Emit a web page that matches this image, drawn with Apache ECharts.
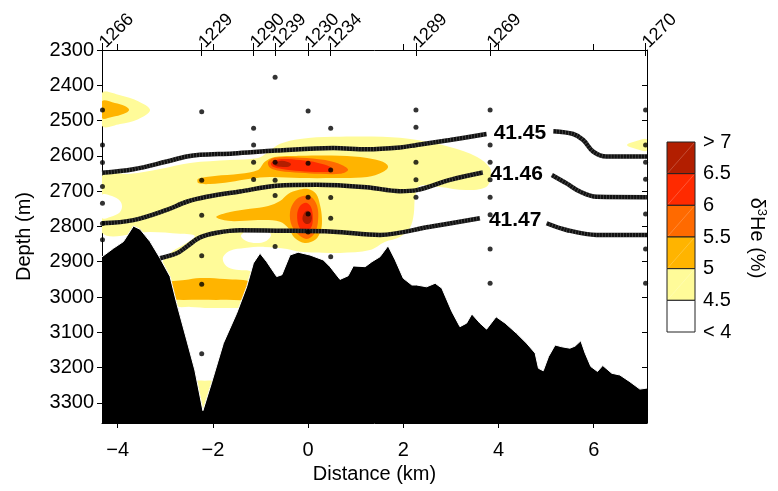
<!DOCTYPE html>
<html>
<head>
<meta charset="utf-8">
<script src="https://cdn.jsdelivr.net/npm/echarts@6/dist/echarts.min.js"></script>
<style>
  html, body { margin: 0; padding: 0; background: #fff; }
  #chart { width: 778px; height: 491px; }
</style>
</head>
<body>
<div id="chart"></div>
<script>
const FONT = '"Liberation Sans", Arial, Helvetica, sans-serif';

// ---- axes ----
const kmTicks = [-4, -2, 0, 2, 4, 6];
const depthTicks = [2300, 2400, 2500, 2600, 2700, 2800, 2900, 3000, 3100, 3200, 3300];
const kmRange = [-4.33, 7.12];
const depthRange = [2300, 3357];

// ---- stations along the section (km) ----
const stationIds = ['1266', '1229', '1290', '1239', '1230', '1234', '1289', '1269', '1270'];
const stationKm = [-4.32, -2.235, -1.145, -0.693, 0.0, 0.475, 2.266, 3.824, 7.09];

// sample depths (m) of each cast
const cast1266 = [2470, 2569, 2619, 2687, 2734, 2792, 2838];
const cast1229 = [2475, 2669, 2768, 2883, 2964, 3161];
const cast1290 = [2522, 2569, 2618, 2667];
const cast1239 = [2377, 2618, 2669, 2712, 2857];
const cast1230 = [2473, 2621, 2717, 2765, 2816];
const cast1234 = [2522, 2640, 2718, 2777, 2886];
const cast1289 = [2470, 2519, 2618, 2668, 2717];
const cast1269 = [2470, 2569, 2618, 2668, 2717, 2767, 2864, 2961];
const cast1270 = [2470, 2569, 2618, 2666, 2765, 2864, 2961, 3320];
const casts = [cast1266, cast1229, cast1290, cast1239, cast1230, cast1234, cast1289, cast1269, cast1270];

// ---- seafloor profile ----
const seafloorKm = [-4.33, -4.09, -3.88, -3.67, -3.53, -3.32, -3.11, -2.90, -2.76, -2.55, -2.38, -2.21,
  -2.03, -1.78, -1.50, -1.29, -1.15, -1.01, -0.87, -0.66, -0.55, -0.38, -0.21, 0.04, 0.32, 0.46, 0.67,
  0.84, 0.95, 1.20, 1.34, 1.51, 1.68, 1.83, 2.00, 2.18, 2.28, 2.49, 2.67, 2.81, 3.02, 3.19, 3.33, 3.44,
  3.61, 3.75, 3.95, 4.14, 4.38, 4.59, 4.77, 4.84, 4.94, 5.05, 5.19, 5.33, 5.50, 5.61, 5.73, 5.82, 5.94,
  6.08, 6.19, 6.38, 6.55, 6.76, 6.97, 7.12];
const seafloorDepth = [2886, 2862, 2843, 2799, 2808, 2843, 2890, 2942, 3018, 3122, 3207, 3322,
  3244, 3131, 3046, 2971, 2904, 2876, 2900, 2942, 2937, 2881, 2873, 2881, 2895, 2914, 2950,
  2940, 2912, 2914, 2900, 2886, 2855, 2895, 2947, 2966, 2966, 2971, 2961, 2975, 3041, 3084, 3074, 3048,
  3074, 3091, 3056, 3074, 3103, 3131, 3159, 3202, 3209, 3169, 3136, 3141, 3145, 3139, 3124, 3159, 3197,
  3211, 3194, 3216, 3221, 3240, 3261, 3258];

// ---- isopycnals (km, depth), split where the label sits ----
const iso4145West = [[-4.33, 2648], [-3.67, 2638], [-2.97, 2616], [-2.55, 2602], [-2.27, 2597], [-1.57, 2593],
  [-0.66, 2585], [0.53, 2578], [1.23, 2581], [1.93, 2576], [2.28, 2569], [2.98, 2555], [3.75, 2538]];
const iso4145East = [[5.15, 2530], [5.57, 2538], [5.78, 2555], [5.99, 2588], [6.27, 2602], [7.12, 2602]];
const iso4146West = [[-4.33, 2791], [-3.67, 2782], [-2.97, 2753], [-2.55, 2730], [-2.13, 2716], [-1.43, 2701],
  [-0.66, 2685], [0.18, 2682], [1.23, 2689], [1.93, 2700], [2.28, 2697], [2.98, 2668], [3.67, 2647]];
const iso4146East = [[5.12, 2654], [5.43, 2678], [5.71, 2701], [6.06, 2716], [7.12, 2717]];
const iso4147West = [[-3.11, 2890], [-2.76, 2876], [-2.55, 2857], [-2.27, 2831], [-1.92, 2818], [-1.43, 2811],
  [-0.66, 2812], [0.53, 2815], [1.51, 2824], [2.56, 2801], [3.61, 2777]];
const iso4147East = [[5.01, 2791], [5.43, 2810], [6.06, 2824], [7.12, 2824]];
const isoLabels = ['41.45', '41.46', '41.47'];
const isoLabelAt = [[4.45, 2537], [4.38, 2651], [4.35, 2782]];

// ---- δ3He classes ----
const levelColors = ['#FFFFFF', '#FFFB99', '#FFB400', '#FF6A00', '#FF2A00', '#B21E00'];
const levelTickText = ['> 7', '6.5', '6', '5.5', '5', '4.5', '< 4'];

// filled contour outlines (km, depth)
const he45Main = [[-4.33, 2657], [-3.74, 2651], [-3.11, 2637], [-2.48, 2620], [-1.64, 2612], [-1.05, 2606],
  [-0.84, 2589], [-0.59, 2566], [-0.17, 2552], [0.52, 2546], [1.57, 2546], [2.29, 2555], [2.98, 2575],
  [3.55, 2603], [3.82, 2634], [3.84, 2660], [3.74, 2688], [3.32, 2697], [2.77, 2688], [2.35, 2685],
  [2.25, 2714], [2.22, 2765], [2.14, 2804], [1.93, 2830], [1.61, 2844], [1.30, 2867], [0.67, 2875],
  [-0.17, 2872], [-0.44, 2864], [-0.91, 2858], [-1.33, 2861], [-1.64, 2869], [-1.79, 2889], [-1.72, 2912],
  [-1.51, 2923], [-1.22, 2926], [-1.05, 2940], [-1.22, 3008], [-1.35, 3028], [-1.64, 3031], [-2.06, 3031],
  [-2.48, 3028], [-2.78, 3025], [-2.99, 2980], [-3.07, 2906], [-2.86, 2872], [-2.59, 2850], [-2.38, 2827],
  [-2.69, 2821], [-3.32, 2816], [-4.33, 2818]];
const he45WestCap = [[-4.33, 2422], [-3.95, 2428], [-3.57, 2445], [-3.32, 2470], [-3.57, 2496], [-3.95, 2510], [-4.33, 2515]];
const he45EastCap = [[6.70, 2569], [6.91, 2557], [7.12, 2553], [7.12, 2585], [6.91, 2581]];
const he45Trough = [[-2.48, 3243], [-2.17, 3237], [-1.85, 3243], [-1.96, 3292], [-2.21, 3330], [-2.38, 3292]];
const lowWest = [[-4.33, 2711], [-4.12, 2714], [-3.95, 2728], [-3.91, 2745], [-3.97, 2762], [-4.16, 2773], [-4.33, 2776]];
const lowCentre = [[-1.41, 2827], [-1.30, 2813], [-1.09, 2807], [-0.88, 2810], [-0.78, 2824], [-0.88, 2841], [-1.09, 2847], [-1.30, 2841]];
const he5WestCap = [[-4.33, 2445], [-4.06, 2450], [-3.85, 2459], [-3.76, 2470], [-3.87, 2481], [-4.12, 2490], [-4.33, 2493]];
const he5Upper = [[-2.31, 2665], [-1.96, 2657], [-1.43, 2651], [-1.05, 2640], [-0.91, 2617], [-0.70, 2603],
  [-0.17, 2600], [0.67, 2600], [1.24, 2606], [1.57, 2617], [1.68, 2631], [1.57, 2646], [1.24, 2660],
  [0.56, 2663], [-0.17, 2663], [-0.80, 2660], [-1.22, 2665], [-1.64, 2674], [-2.06, 2680], [-2.31, 2677]];
const he55Upper = [[-0.84, 2617], [-0.70, 2605], [-0.17, 2605], [0.36, 2612], [0.71, 2626], [0.84, 2640],
  [0.67, 2651], [0.25, 2651], [-0.17, 2648], [-0.59, 2643], [-0.80, 2634]];
const he6Upper = [[-0.78, 2620], [-0.63, 2610], [-0.17, 2612], [0.21, 2620], [0.46, 2631], [0.50, 2643],
  [0.25, 2646], [-0.17, 2643], [-0.55, 2637], [-0.74, 2631]];
const he65Upper = [[-0.70, 2620], [-0.55, 2614], [-0.36, 2622], [-0.40, 2630], [-0.57, 2631], [-0.70, 2627]];
const he5Lower = [[-1.93, 2773], [-1.64, 2759], [-1.22, 2750], [-0.84, 2742], [-0.59, 2728], [-0.42, 2708],
  [-0.21, 2697], [0.00, 2694], [0.17, 2708], [0.25, 2739], [0.29, 2776], [0.27, 2810], [0.15, 2838],
  [-0.07, 2847], [-0.28, 2833], [-0.42, 2804], [-0.59, 2787], [-0.91, 2782], [-1.33, 2784], [-1.68, 2784]];
const he55Lower = [[-0.38, 2759], [-0.28, 2728], [-0.11, 2714], [0.06, 2716], [0.19, 2742], [0.21, 2782],
  [0.15, 2816], [0.00, 2835], [-0.17, 2827], [-0.34, 2799]];
const he6Lower = [[-0.23, 2767], [-0.17, 2742], [-0.04, 2733], [0.06, 2745], [0.10, 2776], [0.06, 2804], [-0.07, 2816], [-0.19, 2801]];
const he65Lower = [[-0.11, 2770], [-0.04, 2756], [0.04, 2759], [0.08, 2776], [0.04, 2790], [-0.04, 2793], [-0.11, 2784]];
const he5Trough = [[-3.01, 2963], [-2.59, 2952], [-2.27, 2946], [-1.75, 2949], [-1.18, 2960], [-1.18, 3003],
  [-1.75, 3008], [-2.27, 3008], [-2.80, 3008], [-3.01, 3005]];

// drawing order: lower classes first, each later outline painted over the earlier ones
const regions = [
  { pts: he45Main, level: 1 }, { pts: he45WestCap, level: 1 }, { pts: he45EastCap, level: 1 },
  { pts: he45Trough, level: 1 }, { pts: lowWest, level: 0 }, { pts: lowCentre, level: 0 },
  { pts: he5WestCap, level: 2 }, { pts: he5Upper, level: 2 }, { pts: he5Lower, level: 2 }, { pts: he5Trough, level: 2 },
  { pts: he55Upper, level: 3 }, { pts: he55Lower, level: 3 },
  { pts: he6Upper, level: 4 }, { pts: he6Lower, level: 4 },
  { pts: he65Upper, level: 5 }, { pts: he65Lower, level: 5 }
];

const chart = echarts.init(document.getElementById('chart'), null, { renderer: 'canvas' });

const axisLineStyle = { color: '#000', width: 1 };
const minus = v => (v < 0 ? '\u2212' + Math.abs(v) : String(v));
const plain = v => String(v);
const stationName = v => {
  let best = 0;
  stationKm.forEach((k, i) => { if (Math.abs(k - v) < Math.abs(stationKm[best] - v)) best = i; });
  return stationIds[best];
};

// isopycnals: dark stroke with a fine lighter hatch on top
const isoSegments = [iso4145West, iso4145East, iso4146West, iso4146East, iso4147West, iso4147East];
const isoSeries = [];
isoSegments.forEach(seg => {
  isoSeries.push({ type: 'line', data: seg, smooth: 0.35, symbol: 'none', silent: true, z: 5,
    lineStyle: { color: '#111', width: 4.5 } });
  isoSeries.push({ type: 'line', data: seg, smooth: 0.35, symbol: 'none', silent: true, z: 5,
    lineStyle: { color: 'rgba(255,255,255,0.28)', width: 4.5, type: [0.7, 2.3] } });
});

const dotData = [];
casts.forEach((c, i) => c.forEach(d => dotData.push([stationKm[i], d])));

// colour key
const keyX = 667, keyW = 28, keyTop = 142, keyH = 190, keyN = 6;
const cell = keyH / keyN;
const keyGraphics = [];
for (let i = 0; i < keyN; i++) {
  const y0 = keyTop + i * cell;
  keyGraphics.push({ type: 'rect', shape: { x: keyX, y: y0, width: keyW, height: cell },
    style: { fill: levelColors[keyN - 1 - i], stroke: '#222', lineWidth: 1 } });
  keyGraphics.push({ type: 'line', shape: { x1: keyX + 1, y1: y0 + cell - 1, x2: keyX + keyW - 1, y2: y0 + 1 },
    style: { stroke: 'rgba(255,255,255,0.35)', lineWidth: 0.6 } });
}
levelTickText.forEach((t, i) => {
  keyGraphics.push({ type: 'text', x: keyX + keyW + 8, y: keyTop + i * cell,
    style: { text: t, font: '20px ' + FONT, fill: '#000', align: 'left', verticalAlign: 'middle' } });
});
keyGraphics.push({ type: 'text', x: 757, y: 238, rotation: -Math.PI / 2,
  style: { text: '{a|δ}{s|3}{a|He (%)}', align: 'center', verticalAlign: 'middle',
    rich: { a: { fontSize: 20, fontFamily: FONT, fill: '#000' },
            s: { fontSize: 13, fontFamily: FONT, fill: '#000', verticalAlign: 'top', padding: [0, 0, 9, 0] } } } });

const option = {
  animation: false,
  backgroundColor: '#fff',
  textStyle: { fontFamily: FONT },
  grid: { left: 102, right: 131, top: 50, bottom: 68, containLabel: false },
  xAxis: [
    { type: 'value', position: 'bottom', min: kmRange[0], max: kmRange[1],
      name: 'Distance (km)', nameLocation: 'middle', nameGap: 39,
      nameTextStyle: { fontSize: 20, color: '#000', fontFamily: FONT },
      axisLine: { show: true, onZero: false, lineStyle: axisLineStyle },
      axisTick: { show: true, customValues: kmTicks, length: 5, lineStyle: axisLineStyle },
      axisLabel: { customValues: kmTicks, formatter: minus, fontSize: 20, color: '#000', margin: 17, fontFamily: FONT },
      splitLine: { show: false } },
    { type: 'value', position: 'top', min: kmRange[0], max: kmRange[1],
      axisLine: { show: true, onZero: false, lineStyle: axisLineStyle },
      axisTick: { show: true, customValues: kmTicks, length: 6, lineStyle: axisLineStyle },
      axisLabel: { show: false }, splitLine: { show: false } },
    { type: 'value', position: 'top', min: kmRange[0], max: kmRange[1],
      axisLine: { show: false, onZero: false },
      axisTick: { show: true, customValues: stationKm, length: 7, lineStyle: axisLineStyle },
      axisLabel: { customValues: stationKm, formatter: stationName, rotate: -45, fontSize: 18, color: '#000', margin: 5, fontFamily: FONT },
      splitLine: { show: false } },
    { type: 'value', position: 'top', min: kmRange[0], max: kmRange[1],
      axisLine: { show: false, onZero: false },
      axisTick: { show: true, inside: true, customValues: stationKm, length: 6, lineStyle: axisLineStyle },
      axisLabel: { show: false }, splitLine: { show: false } }
  ],
  yAxis: [
    { type: 'value', inverse: true, position: 'left', min: depthRange[0], max: depthRange[1],
      name: 'Depth (m)', nameLocation: 'middle', nameGap: 68, nameRotate: 90,
      nameTextStyle: { fontSize: 20, color: '#000', fontFamily: FONT },
      axisLine: { show: true, onZero: false, lineStyle: axisLineStyle },
      axisTick: { show: true, customValues: depthTicks, length: 5, lineStyle: axisLineStyle },
      axisLabel: { customValues: depthTicks, formatter: plain, fontSize: 20, color: '#000', margin: 8, fontFamily: FONT },
      splitLine: { show: false } },
    { type: 'value', inverse: true, position: 'right', min: depthRange[0], max: depthRange[1],
      axisLine: { show: true, onZero: false, lineStyle: axisLineStyle },
      axisTick: { show: true, inside: true, customValues: depthTicks, length: 5, lineStyle: axisLineStyle },
      axisLabel: { show: false }, splitLine: { show: false } }
  ],
  graphic: keyGraphics,
  series: [
    { type: 'custom', xAxisIndex: 0, yAxisIndex: 0, clip: true, silent: true, z: 1,
      data: regions.map((r, i) => [r.pts[0][0], r.pts[0][1], i]),
      encode: { x: 0, y: 1 },
      renderItem: (params, api) => {
        const r = regions[api.value(2)];
        return { type: 'polygon', shape: { points: r.pts.map(p => api.coord(p)), smooth: 0.35 },
          style: { fill: levelColors[r.level] } };
      } },
    { type: 'line', data: seafloorKm.map((k, i) => [k, seafloorDepth[i]]), symbol: 'none', silent: true, z: 3,
      lineStyle: { color: '#fff', width: 1 }, areaStyle: { color: '#000', opacity: 1, origin: 'end' } },
    ...isoSeries,
    { type: 'scatter', data: dotData, symbol: 'circle', symbolSize: 5, silent: true, z: 6,
      itemStyle: { color: '#000' } },
    // isopycnal value labels placed at their data positions
    { type: 'custom', xAxisIndex: 0, yAxisIndex: 0, clip: false, silent: true, z: 7,
      data: isoLabelAt.map((p, i) => [p[0], p[1], i]),
      encode: { x: 0, y: 1 },
      renderItem: (params, api) => {
        const pt = api.coord([api.value(0), api.value(1)]);
        return { type: 'text', x: pt[0], y: pt[1],
          style: { text: isoLabels[api.value(2)], fill: '#000', font: 'bold 21px ' + FONT,
            align: 'center', verticalAlign: 'middle' } };
      } }
  ]
};
chart.setOption(option);
</script>
</body>
</html>
